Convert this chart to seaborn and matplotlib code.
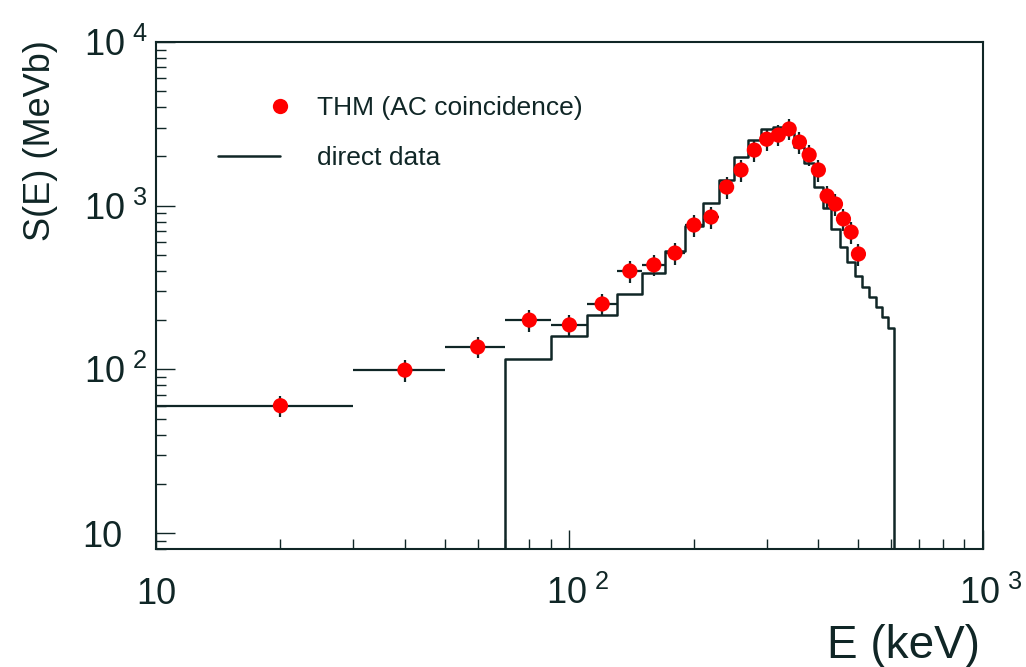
import numpy as np
import seaborn as sns
import matplotlib.pyplot as plt
from matplotlib.lines import Line2D
from matplotlib.legend_handler import HandlerLine2D
from matplotlib.ticker import FixedLocator, LogLocator, NullFormatter
from matplotlib.transforms import ScaledTranslation

# THM points (AC coincidence): energy bin centre, half width, S(E) and error
thm_energy = [20, 40, 60, 80, 100, 120, 140, 160, 180, 200, 220, 240, 260,
              280, 300, 320, 340, 360, 380, 400, 420, 440, 460, 480, 500]
thm_halfwidth = [10, 10, 10, 10, 10, 10, 10, 10, 10, 10, 10, 10, 10,
                 10, 10, 10, 10, 10, 10, 10, 10, 10, 10, 10, 10]
thm_s = [60, 99, 137, 200, 187, 251, 399, 435, 514, 762, 853, 1300, 1653,
         2188, 2550, 2700, 2943, 2448, 2044, 1653, 1146, 1024, 830, 690, 507]
thm_err = [9, 15, 20, 30, 28, 37, 60, 65, 77, 114, 128, 195, 248,
           328, 380, 400, 440, 367, 306, 248, 172, 154, 125, 104, 76]

# direct data histogram: bin edges and contents
direct_edges = [70, 90, 110, 130, 150, 170, 190, 210, 230, 250, 270, 290, 310,
                330, 350, 370, 390, 410, 430, 450, 470, 490, 510, 530, 550,
                570, 590, 610]
direct_s = [115, 160, 215, 288, 390, 531, 752, 1034, 1436, 1977, 2518, 2940,
            3010, 2780, 2290, 1815, 1300, 964, 721, 562, 455, 372, 317, 278,
            242, 210, 178]

x_limits = (10, 1000)
y_limits = (8, 10000)
x_ticks = [10, 100, 1000]
x_ticklabels = ["10", r"$\mathregular{10^{\ 2}}$", r"$\mathregular{10^{\ 3}}$"]
y_ticks = [10, 100, 1000, 10000]
y_ticklabels = ["10", r"$\mathregular{10^{\ 2}}$", r"$\mathregular{10^{\ 3}}$",
                r"$\mathregular{10^{\ 4}}$"]

dark = "#102626"


class RightMarkerHandler(HandlerLine2D):
    # legend key with the marker at the right end of the handle
    def get_xdata(self, legend, xdescent, ydescent, width, height, fontsize):
        right = width - xdescent
        return np.array([right, right]), np.array([right])


sns.set_style("white")
plt.rcParams["font.family"] = ["Liberation Sans", "DejaVu Sans"]
plt.rcParams["text.color"] = dark

fig = plt.figure(figsize=(10.26, 6.67), dpi=100)
ax = fig.add_axes([0.152, 0.177, 0.806, 0.760])

# histogram outline as a step line, closed down to the lower axis limit
step_x = [direct_edges[0]] + direct_edges + [direct_edges[-1]]
step_y = [y_limits[0]] + direct_s + [direct_s[-1], y_limits[0]]
sns.lineplot(x=step_x, y=step_y, estimator=None, sort=False,
             drawstyle="steps-post", color=dark, linewidth=1.8, zorder=2, ax=ax)

ax.errorbar(thm_energy, thm_s, xerr=thm_halfwidth, yerr=thm_err, fmt="none",
            ecolor=dark, elinewidth=1.6, capsize=0, zorder=3)
sns.scatterplot(x=thm_energy, y=thm_s, color="red", s=120, edgecolor="none",
                zorder=4, ax=ax)

ax.set_xscale("log")
ax.set_yscale("log")
ax.set_xlim(*x_limits)
ax.set_ylim(*y_limits)

ax.xaxis.set_major_locator(FixedLocator(x_ticks))
ax.yaxis.set_major_locator(FixedLocator(y_ticks))
ax.xaxis.set_minor_locator(LogLocator(base=10, subs=np.arange(2, 10)))
ax.yaxis.set_minor_locator(LogLocator(base=10, subs=np.arange(2, 10)))
ax.xaxis.set_minor_formatter(NullFormatter())
ax.yaxis.set_minor_formatter(NullFormatter())
ax.set_xticklabels(x_ticklabels)
ax.set_yticklabels(y_ticklabels)

ax.tick_params(which="both", direction="in", bottom=True, left=True,
               top=False, right=False, color=dark, width=1,
               labelcolor=dark, labelsize=26)
ax.tick_params(which="major", length=14)
ax.tick_params(which="minor", length=7)
ax.tick_params(axis="x", which="major", pad=40)
ax.tick_params(axis="y", which="major", pad=6)
for lab in ax.get_xticklabels():
    lab.set_va("baseline")

for spine in ax.spines.values():
    spine.set_color(dark)
    spine.set_linewidth(1.5)

ax.set_xlabel("E (keV)", fontsize=33, ha="right", va="baseline", color=dark)
ax.xaxis.set_label_coords(0.9964, -0.215)
ax.set_ylabel("S(E) (MeVb)", fontsize=26, ha="center", va="center", color=dark)
ax.yaxis.set_label_coords(-0.140, 0.805)

handles = [
    Line2D([], [], linestyle="none", marker="o", markersize=11, color="red",
           markeredgewidth=0),
    Line2D([], [], color=dark, linewidth=1.8),
]
ax.legend(handles, ["THM (AC coincidence)", "direct data"], loc="upper left",
          bbox_to_anchor=(0.075, 0.893), frameon=False, numpoints=1,
          handlelength=2.35, handletextpad=1.4, labelspacing=0.97,
          borderpad=0, borderaxespad=0, fontsize=19,
          handler_map={handles[0]: RightMarkerHandler(numpoints=1)})

# keep the base "10" of every label aligned like the original
for tick in ax.yaxis.get_major_ticks():
    if tick.label1.get_text() == "10":
        tick.label1.set_transform(tick.label1.get_transform()
                                  + ScaledTranslation(-0.25, 0, fig.dpi_scale_trans))
for tick in ax.xaxis.get_major_ticks():
    if tick.label1.get_text() != "10":
        tick.label1.set_transform(tick.label1.get_transform()
                                  + ScaledTranslation(0.08, 0, fig.dpi_scale_trans))

fig.savefig("out.png", dpi=100)
plt.close(fig)
